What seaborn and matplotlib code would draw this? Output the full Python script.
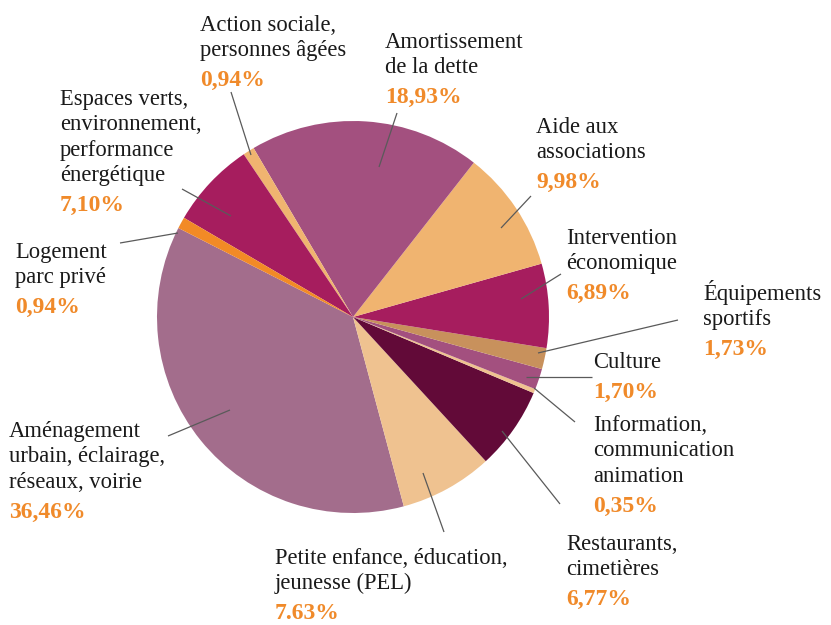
import matplotlib
matplotlib.use("Agg")
import matplotlib.pyplot as plt
import seaborn as sns

# ---------------- data ----------------
categories = [
    "Aménagement\nurbain, éclairage,\nréseaux, voirie",
    "Petite enfance, éducation,\njeunesse (PEL)",
    "Restaurants,\ncimetières",
    "Information,\ncommunication\nanimation",
    "Culture",
    "Équipements\nsportifs",
    "Intervention\néconomique",
    "Aide aux\nassociations",
    "Amortissement\nde la dette",
    "Action sociale,\npersonnes âgées",
    "Espaces verts,\nenvironnement,\nperformance\nénergétique",
    "Logement\nparc privé",
]
values = [36.46, 7.63, 6.77, 0.35, 1.70, 1.73, 6.89, 9.98, 18.93, 0.94, 7.10, 0.94]
pct_labels = ["36,46%", "7.63%", "6,77%", "0,35%", "1,70%", "1,73%",
              "6,89%", "9,98%", "18,93%", "0,94%", "7,10%", "0,94%"]
colors = ["#A36D8C", "#EFC290", "#620A38", "#EFC290", "#A3507F", "#C8915C",
          "#A61D5E", "#F0B470", "#A3507F", "#F0B470", "#A61D5E", "#F28A26"]

# ---------------- layout (pixel coordinates, y from top) ----------------
W, H = 831, 625
center_px = (353, 317)
radius_px = 196
label_pos = [(9, 437), (275, 564), (566, 550), (593, 431), (593, 368), (703, 300),
             (566, 244), (536, 133), (385, 48), (200, 31), (60, 105), (15, 258)]
leaders = [((168, 436), (230, 410)), ((444, 532), (423, 473)), ((560, 504), (502, 431)),
           ((575, 422), (534, 388)), ((592, 377), (526, 377)), ((678, 320), (538, 353)),
           ((561, 274), (521, 299)), ((531, 196), (501, 228)), ((397, 113), (379, 167)),
           ((231, 92), (251, 155)), ((182, 189), (231, 216)), ((120, 243), (178, 233))]
line_step = 25.4
pct_gap = 30

sns.set_theme(style="white")
plt.rcParams["font.family"] = ["Liberation Serif", "DejaVu Serif"]

fig = plt.figure(figsize=(W / 100, H / 100), dpi=100)
ax = fig.add_axes([0, 0, 1, 1])

ax.pie(values, colors=colors, startangle=153, counterclock=True,
       center=(center_px[0], H - center_px[1]), radius=radius_px,
       wedgeprops=dict(linewidth=0))
ax.set_xlim(0, W)
ax.set_ylim(0, H)
ax.set_aspect("equal")
ax.axis("off")

for (p0, p1) in leaders:
    ax.plot([p0[0], p1[0]], [H - p0[1], H - p1[1]], color="#5a5a5a", lw=0.9,
            solid_capstyle="butt")

for cat, pct, (x, y) in zip(categories, pct_labels, label_pos):
    lines = cat.split("\n")
    for i, ln in enumerate(lines):
        ax.text(x, H - (y + i * line_step), ln, fontsize=16.3, color="#1a1a1a",
                ha="left", va="baseline")
    yp = y + (len(lines) - 1) * line_step + pct_gap
    ax.text(x, H - yp, pct, fontsize=17, color="#F08A2A", fontweight="bold",
            ha="left", va="baseline")

fig.savefig("out.png", dpi=100)
